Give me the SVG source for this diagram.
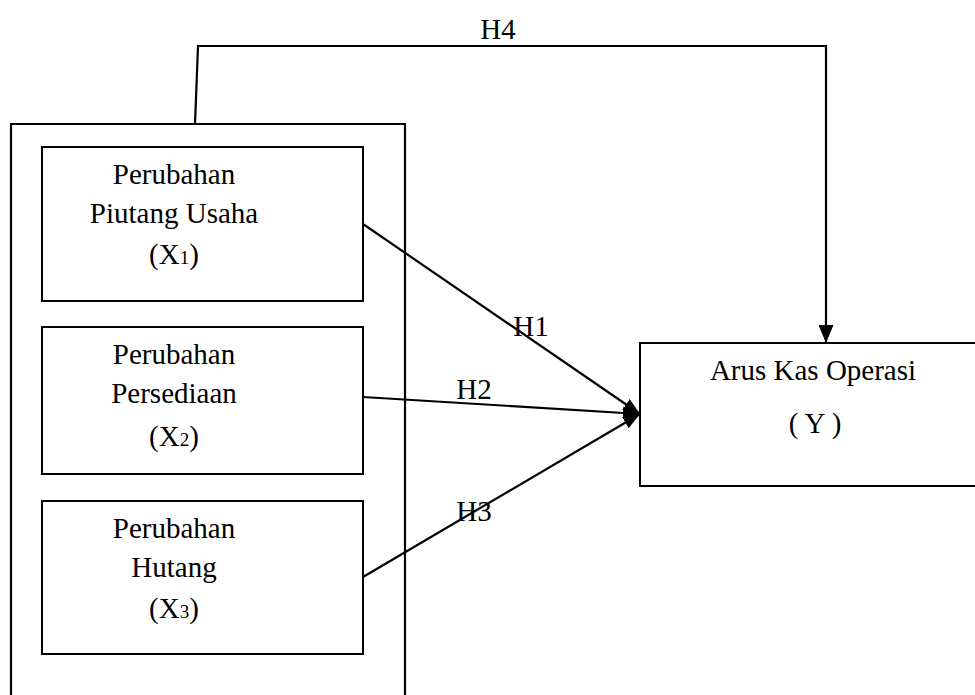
<svg xmlns="http://www.w3.org/2000/svg" width="975" height="695" viewBox="0 0 975 695">
<style>
.box{fill:#fff;stroke:#000;stroke-width:2}
.ln{fill:none;stroke:#000;stroke-width:2.2}
text{font-family:"Liberation Serif","Times New Roman",serif;font-size:29px;fill:#000;text-anchor:middle}
.sub{font-size:19px}
</style>
<defs>
<marker id="ah" viewBox="0 0 18 15" refX="18" refY="7.5" markerWidth="18" markerHeight="15" markerUnits="userSpaceOnUse" orient="auto">
<path d="M0,0 L18,7.5 L0,15 Z" fill="#000"/>
</marker>
<marker id="ahd" viewBox="0 0 17 13" refX="17" refY="6.5" markerWidth="17" markerHeight="13" markerUnits="userSpaceOnUse" orient="auto">
<path d="M0,0 L17,6.5 L0,13 Z" fill="#000"/>
</marker>
</defs>
<g id="outer">
<path class="ln" d="M11,700 L11,124 L405,124 L405,700" stroke-width="2"/>
</g>
<g id="x1">
<rect class="box" x="42" y="147" width="321" height="154"/>
<text x="174" y="184">Perubahan</text>
<text x="174" y="223">Piutang Usaha</text>
<text x="174" y="264">(X<tspan class="sub">1</tspan>)</text>
</g>
<g id="x2">
<rect class="box" x="42" y="327" width="321" height="147"/>
<text x="174" y="364">Perubahan</text>
<text x="174" y="403">Persediaan</text>
<text x="174" y="446">(X<tspan class="sub">2</tspan>)</text>
</g>
<g id="x3">
<rect class="box" x="42" y="501" width="321" height="153"/>
<text x="174" y="538">Perubahan</text>
<text x="174" y="577">Hutang</text>
<text x="174" y="618">(X<tspan class="sub">3</tspan>)</text>
</g>
<g id="y">
<rect class="box" x="640" y="343" width="360" height="143"/>
<text x="813" y="380">Arus Kas Operasi</text>
<text x="815" y="433">( Y )</text>
</g>
<g id="connectors">
<path class="ln" d="M195,124 L198,46 L826,46 L826,343" marker-end="url(#ah)"/>
<line class="ln" x1="363" y1="224" x2="640" y2="414" marker-end="url(#ahd)"/>
<line class="ln" x1="363" y1="397" x2="640" y2="414" marker-end="url(#ahd)"/>
<line class="ln" x1="363" y1="577" x2="640" y2="414" marker-end="url(#ahd)"/>
<text x="498" y="39">H4</text>
<text x="531" y="336">H1</text>
<text x="474" y="399">H2</text>
<text x="474" y="521">H3</text>
</g>
</svg>
